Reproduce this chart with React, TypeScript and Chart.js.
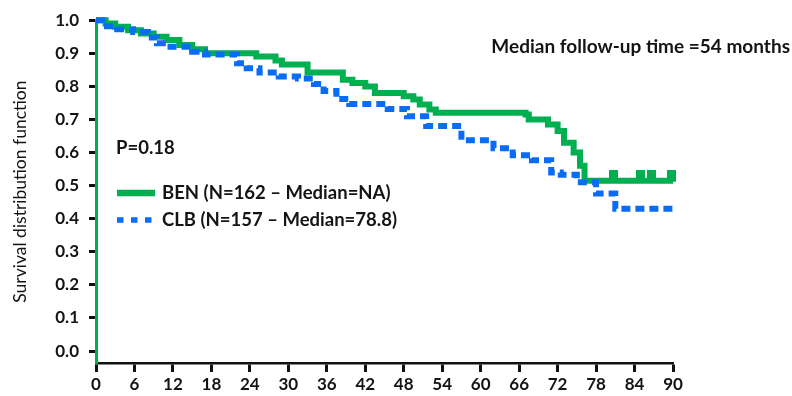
import { useEffect, useRef } from "react";
import { Chart, registerables } from "chart.js";

Chart.register(...registerables);

// Axis ticks
const monthTicks = [0, 6, 12, 18, 24, 30, 36, 42, 48, 54, 60, 66, 72, 78, 84, 90];
const survivalTicks = [0, 0.1, 0.2, 0.3, 0.4, 0.5, 0.6, 0.7, 0.8, 0.9, 1.0];

// Kaplan-Meier estimates: event times (months) and survival after each step
const benTimes = [0, 1.5, 3, 5, 7, 9, 11, 13, 15, 17, 25, 28, 29, 33, 38.5, 40, 42, 43.5, 48, 49.5, 50.5, 52, 53, 67, 67.5, 70.5, 72, 73, 74.5, 75.5, 76.2, 90];
const benSurvival = [1.0, 0.99, 0.98, 0.97, 0.96, 0.95, 0.94, 0.925, 0.912, 0.9, 0.89, 0.878, 0.866, 0.842, 0.82, 0.81, 0.8, 0.78, 0.77, 0.76, 0.745, 0.73, 0.72, 0.715, 0.7, 0.685, 0.665, 0.63, 0.6, 0.56, 0.515, 0.515];
const benCensorTimes = [80.7, 84.9, 86.7, 89.8];

const clbTimes = [0, 1, 3.3, 5.8, 8.1, 9.5, 11, 15, 17, 22, 23.5, 25.5, 28.5, 31.5, 34, 35.5, 37.5, 39.5, 45.5, 48.5, 51.5, 57, 62, 65, 68, 71, 72.5, 75, 78, 81, 90];
const clbSurvival = [1.0, 0.982, 0.973, 0.964, 0.948, 0.93, 0.92, 0.905, 0.896, 0.87, 0.855, 0.842, 0.83, 0.824, 0.807, 0.786, 0.762, 0.747, 0.732, 0.71, 0.68, 0.637, 0.613, 0.592, 0.577, 0.54, 0.533, 0.51, 0.476, 0.43, 0.43];

const benLabel = "BEN (N=162 \u2013 Median=NA)";
const clbLabel = "CLB (N=157 \u2013 Median=78.8)";
const pValueText = "P=0.18";
const followUpText = "Median follow-up time =54 months";
const yTitle = "Survival distribution function";

const GREEN = "#00b050";
const BLUE = "#0a6cf5";
const TEXT = "#141414";
const FONT = "Lato, 'Open Sans', sans-serif";

function survivalAt(times: number[], values: number[], t: number) {
  let v = values[0];
  for (let i = 0; i < times.length; i++) {
    if (times[i] <= t) v = values[i];
  }
  return v;
}

// Censoring tick: a small block that sits on top of the curve
function censorMark() {
  const c = document.createElement("canvas");
  c.width = 9;
  c.height = 22;
  const g = c.getContext("2d")!;
  g.fillStyle = GREEN;
  g.fillRect(0, 0, 9, 12);
  return c;
}

const annotations = {
  id: "annotations",
  afterDatasetsDraw(chart: any) {
    const { ctx, chartArea } = chart;
    ctx.save();
    ctx.fillStyle = TEXT;
    ctx.textBaseline = "middle";

    ctx.font = `bold 19px ${FONT}`;
    ctx.textAlign = "right";
    ctx.fillText(followUpText, chart.width - 2, 47);

    ctx.font = `bold 18.5px ${FONT}`;
    ctx.textAlign = "left";
    ctx.fillText(pValueText, chartArea.left + 20, 148);

    // legend
    const x0 = chartArea.left + 21;
    const rows = [
      { y: 193, label: benLabel, color: GREEN, dash: [] as number[], len: 38 },
      { y: 220, label: clbLabel, color: BLUE, dash: [6.5, 7.5], len: 35 },
    ];
    rows.forEach((r) => {
      ctx.save();
      ctx.strokeStyle = r.color;
      ctx.lineWidth = r.dash.length ? 5.5 : 6.5;
      ctx.setLineDash(r.dash);
      ctx.beginPath();
      ctx.moveTo(x0, r.y);
      ctx.lineTo(x0 + r.len, r.y);
      ctx.stroke();
      ctx.restore();
      ctx.fillText(r.label, x0 + 45, r.y);
    });
    ctx.restore();
  },
};

export default function App() {
  const ref = useRef<HTMLCanvasElement>(null);

  useEffect(() => {
    const canvas = ref.current;
    if (!canvas) return;
    const chart = new Chart(canvas, {
      type: "line",
      data: {
        datasets: [
          {
            label: clbLabel,
            data: clbTimes.map((t, i) => ({ x: t, y: clbSurvival[i] })),
            borderColor: BLUE,
            borderWidth: 6,
            borderDash: [9, 5],
            borderCapStyle: "butt",
            stepped: true,
            pointRadius: 0,
            clip: false as any,
          },
          {
            label: benLabel,
            data: benTimes.map((t, i) => ({ x: t, y: benSurvival[i] })),
            borderColor: GREEN,
            borderWidth: 6,
            stepped: true,
            pointRadius: 0,
            clip: false as any,
          },
          {
            label: "censored",
            data: benCensorTimes.map((t) => ({ x: t, y: survivalAt(benTimes, benSurvival, t) })),
            showLine: false,
            pointStyle: censorMark() as any,
            pointRadius: 5,
            clip: false as any,
          },
        ],
      },
      options: {
        animation: false,
        responsive: false,
        layout: { padding: { top: 16, right: 119, bottom: 0, left: 0 } },
        plugins: { legend: { display: false }, tooltip: { enabled: false } },
        scales: {
          x: {
            type: "linear",
            min: 0,
            max: 90,
            afterBuildTicks: (axis: any) => {
              axis.ticks = monthTicks.map((v) => ({ value: v }));
            },
            afterFit: (scale: any) => {
              scale.height = 33;
            },
            border: { color: "#111", width: 2.5 },
            grid: { drawOnChartArea: false, tickLength: 9, tickWidth: 3, tickColor: "#111" },
            ticks: { color: TEXT, padding: 2, maxRotation: 0, font: { family: FONT, size: 17, weight: "bold" } },
          },
          y: {
            min: -0.036,
            max: 1.0,
            afterBuildTicks: (axis: any) => {
              axis.ticks = survivalTicks.map((v) => ({ value: v }));
            },
            afterFit: (scale: any) => {
              scale.width = 96;
            },
            border: { color: GREEN, width: 3 },
            grid: { drawOnChartArea: false, tickLength: 7, tickWidth: 3, tickColor: "#111" },
            ticks: {
              color: TEXT,
              padding: 10,
              font: { family: FONT, size: 17, weight: "bold" },
              callback: (v: any) => Number(v).toFixed(1),
            },
            title: {
              display: true,
              text: yTitle,
              color: TEXT,
              padding: { top: 10, bottom: 0 },
              font: { family: FONT, size: 17.5 },
            },
          },
        },
      },
      plugins: [annotations],
    });
    return () => chart.destroy();
  }, []);

  return (
    <div style={{ position: "fixed", left: 0, top: 0, width: 792, height: 396, background: "#fff" }}>
      <canvas ref={ref} width={792} height={396} style={{ display: "block" }} />
    </div>
  );
}
